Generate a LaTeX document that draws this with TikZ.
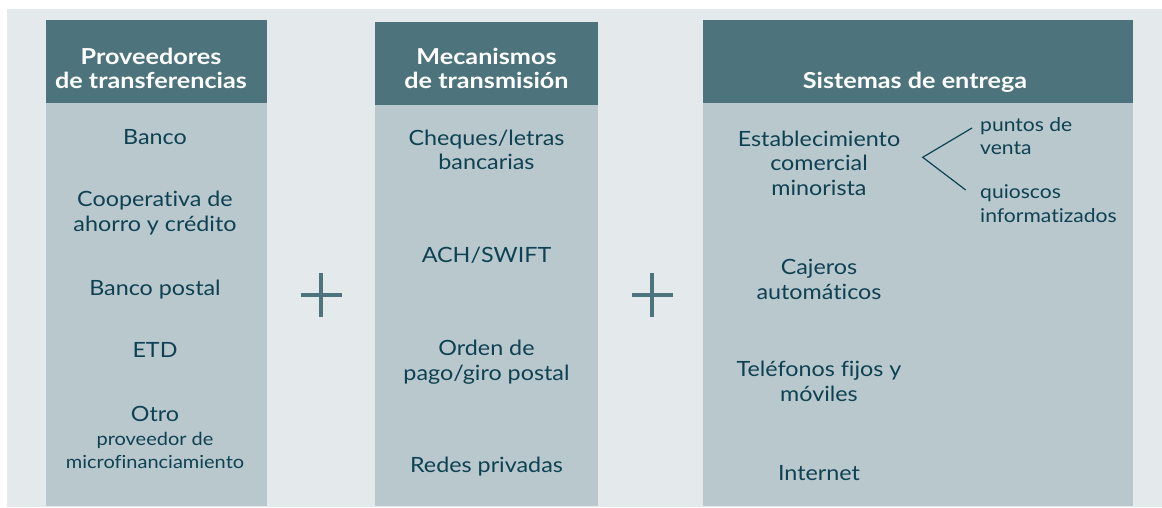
\documentclass[tikz,border=0pt]{standalone}
\usepackage{fontspec}
\setmainfont{Lato}[Ligatures=CommonOff,FakeStretch=1.11]
\newfontfamily\headfont{Lato}[Ligatures=CommonOff,FakeStretch=1.145]
\usetikzlibrary{calc}
\definecolor{bgc}{HTML}{E4E9EB}
\definecolor{headc}{HTML}{4D747D}
\definecolor{bodyc}{HTML}{B8C8CD}
\definecolor{txtc}{HTML}{0E4152}
\begin{document}
\begin{tikzpicture}[x=1pt,y=-1pt,
  head/.style={fill=headc,draw=none},
  colbody/.style={fill=bodyc,draw=none},
  htxt/.style={text=white,font=\headfont\fontsize{22}{24.3}\selectfont\bfseries,align=center,anchor=base,inner sep=0pt},
  btxt/.style={text=txtc,font=\fontsize{21}{24.5}\selectfont,align=center,anchor=base,inner sep=0pt},
  stxt/.style={text=txtc,font=\fontsize{19}{23.3}\selectfont,align=left,anchor=base west,inner sep=0pt},
  plusmark/.style={draw=headc,line width=4pt},
  branch/.style={draw=txtc,line width=1.2pt}]
\useasboundingbox (0,0) rectangle (1162,508);
\fill[white] (0,0) rectangle (1162,508);
\fill[bgc] (7,9) rectangle (1162,507);
% columns
\fill[colbody] (46,103) rectangle (267,506);
\fill[head] (46,20) rectangle (267,103);
\fill[colbody] (375,105) rectangle (598,506);
\fill[head] (375,22) rectangle (598,105);
\fill[colbody] (703,103) rectangle (1133,506);
\fill[head] (703,20) rectangle (1133,103);
% headers (anchor = baseline of last line)
\node[htxt] (h1) at (151,89) {Proveedores\\de transferencias};
\node[htxt] (h2) at (486.5,89) {Mecanismos\\de transmisión};
\node[htxt] (h3) at (915,89) {Sistemas de entrega};
% column 1
\node[btxt] (banco) at (155,145) {Banco};
\node[btxt] (coop) at (155,231) {Cooperativa de\\ahorro y crédito};
\node[btxt] (postal) at (155,295) {Banco postal};
\node[btxt] (etd) at (155,357.5) {ETD};
\node[btxt] (otro) at (155,468) {Otro\\[-1pt]{\fontsize{18}{23}\selectfont proveedor de}\\[-1.5pt]{\fontsize{18}{23}\selectfont microfinanciamiento}};
% column 2
\node[btxt] (cheques) at (486.5,170) {Cheques/letras\\bancarias};
\node[btxt] (ach) at (486.5,262) {ACH/SWIFT};
\node[btxt] (orden) at (486.5,380) {Orden de\\pago/giro postal};
\node[btxt] (redes) at (486.5,472) {Redes privadas};
% column 3
\node[btxt] (estab) at (819,195) {Establecimiento\\comercial\\minorista};
\node[btxt] (cajeros) at (819,299) {Cajeros\\automáticos};
\node[btxt] (telef) at (819,401) {Teléfonos fijos y\\móviles};
\node[btxt] (inter) at (819,480) {Internet};
\node[stxt] (puntos) at (980,155) {puntos de\\venta};
\node[stxt] (quioscos) at (980,222) {quioscos\\informatizados};
% branch
\coordinate (bv) at (922.7,157.3);
\coordinate (bu) at (972,128);
\coordinate (bd) at (965.7,190);
\draw[branch] (bu) -- (bv) -- (bd);
% plus signs
\coordinate (p1) at (321,295);
\coordinate (p2) at (652,295);
\draw[plusmark] ($(p1)+(-20.5,0)$) -- ($(p1)+(20.5,0)$) ($(p1)+(0,-22)$) -- ($(p1)+(0,22)$);
\draw[plusmark] ($(p2)+(-20.5,0)$) -- ($(p2)+(20.5,0)$) ($(p2)+(0,-22)$) -- ($(p2)+(0,22)$);
\end{tikzpicture}
\end{document}
